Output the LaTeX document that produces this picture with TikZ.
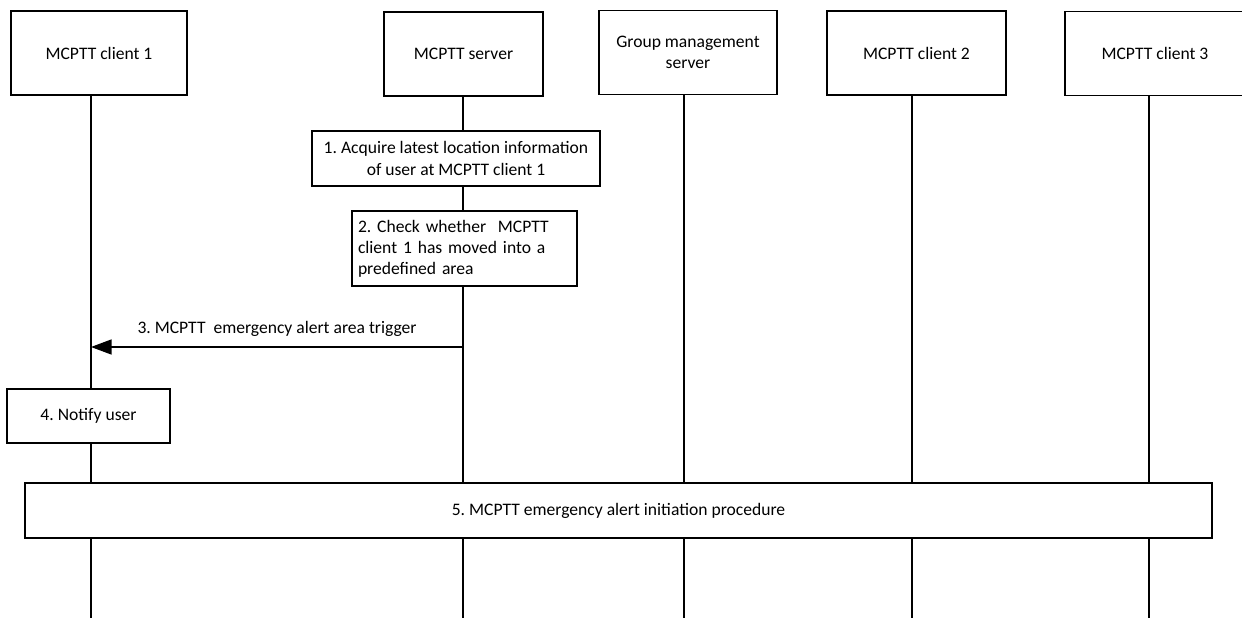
\documentclass[tikz,border=0pt]{standalone}
\usepackage{fontspec}
\setmainfont{Carlito}
\frenchspacing
\usepackage{tikz}
\usetikzlibrary{arrows.meta, positioning, backgrounds}

\begin{document}
\begin{tikzpicture}[
    entity/.style={draw, line width=0.7pt, fill=white, align=center,
                 minimum height=1.68cm, font=\fontsize{10}{12}\selectfont},
    action/.style={draw, line width=0.7pt, fill=white, align=center,
                 font=\fontsize{10}{12}\selectfont},
    lifeline/.style={line width=0.8pt},
    msg/.style={line width=0.7pt, -{Triangle[length=0.41cm, width=0.3cm]}},
  ]
    \useasboundingbox (0,0) rectangle (24.84,-12.36);
    \node[entity, minimum width=3.52cm] (c1) at (1.98,-1.06) {MCPTT client 1};
    \node[entity, minimum width=3.18cm] (srv) at (9.27,-1.08) {MCPTT server};
    \node[entity, minimum width=3.56cm] (gms) at (13.76,-1.05) {Group management\\server};
    \node[entity, minimum width=3.58cm] (c2) at (18.33,-1.06) {MCPTT client 2};
    \node[entity, minimum width=3.6cm] (c3) at (23.1,-1.07) {MCPTT client 3};
    \coordinate (c1b) at (1.82,-12.36);
    \coordinate (srvb) at (9.26,-12.36);
    \coordinate (gmsb) at (13.68,-12.36);
    \coordinate (c2b) at (18.24,-12.36);
    \coordinate (c3b) at (22.98,-12.36);
    \node[action, minimum width=5.76cm, minimum height=1.1cm] (s1) at (9.12,-3.17) {1. Acquire latest location information\\of user at MCPTT client 1};
    \node[action, minimum width=4.5cm, minimum height=1.5cm, text width=4.26cm, inner xsep=0.12cm, align=left] (s2) at (9.29,-4.97) {2. Check whether\ \ MCPTT\\client 1 has moved into a\\predefined area};
    \coordinate (m3) at (9.26,-6.94);
    \draw[msg] (m3) -- (m3 -| c1b) node[midway, above=2pt, font=\fontsize{10}{12}\selectfont] {3. MCPTT\ \ emergency alert area trigger};
    \node[action, minimum width=3.26cm, minimum height=1.08cm] (s4) at (1.77,-8.32) {4. Notify user};
    \node[action, minimum width=23.74cm, minimum height=1.1cm] (s5) at (12.37,-10.21) {5. MCPTT emergency alert initiation procedure};
    \begin{scope}[on background layer]
      \draw[lifeline] (c1.south -| c1b) -- (c1b);
      \draw[lifeline] (srv.south -| srvb) -- (srvb);
      \draw[lifeline] (gms.south -| gmsb) -- (gmsb);
      \draw[lifeline] (c2.south -| c2b) -- (c2b);
      \draw[lifeline] (c3.south -| c3b) -- (c3b);
    \end{scope}
  \end{tikzpicture}
\end{document}
